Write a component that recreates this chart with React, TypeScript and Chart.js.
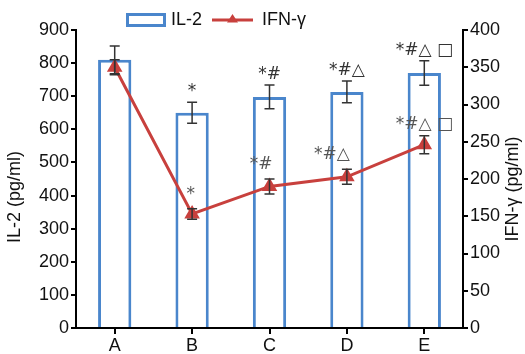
import React, { useEffect, useRef } from "react";
import { Chart, registerables } from "chart.js";

Chart.register(...registerables);

const categories = ["A", "B", "C", "D", "E"];
const il2Values = [810, 650, 698, 713, 770];
const il2Errors = [42, 32, 36, 33, 37];
const ifnValues = [350, 153, 190, 203, 246];
const ifnErrors = [10, 7, 10, 10, 12];
const il2Marks = ["", "*", "*#", "*#△", "*#△ □"];
const ifnMarks = ["", "*", "*#", "*#△", "*#△ □"];
const il2Ticks = [0, 100, 200, 300, 400, 500, 600, 700, 800, 900];
const ifnTicks = [0, 50, 100, 150, 200, 250, 300, 350, 400];

const BLUE = "#4a86cc";
const RED = "#c8403d";
const FONT = "'Liberation Sans', Arial, sans-serif";

const overlay = {
  id: "overlay",
  afterDatasetsDraw(chart: any) {
    const ctx = chart.ctx;
    const xs = chart.scales.x;
    const ys = chart.scales.y;
    const y1 = chart.scales.y1;
    ctx.save();
    ctx.strokeStyle = "#333";
    ctx.lineWidth = 1.5;
    const cap = 5;
    const drawErr = (vals: number[], errs: number[], scale: any) => {
      vals.forEach((v, i) => {
        const x = xs.getPixelForValue(i);
        const top = scale.getPixelForValue(v + errs[i]);
        const bot = scale.getPixelForValue(v - errs[i]);
        ctx.beginPath();
        ctx.moveTo(x, top);
        ctx.lineTo(x, bot);
        ctx.moveTo(x - cap, top);
        ctx.lineTo(x + cap, top);
        ctx.moveTo(x - cap, bot);
        ctx.lineTo(x + cap, bot);
        ctx.stroke();
      });
    };
    drawErr(il2Values, il2Errors, ys);
    drawErr(ifnValues, ifnErrors, y1);

    ctx.font = `17px 'DejaVu Sans', ${FONT}`;
    ctx.textBaseline = "alphabetic";
    ctx.fillStyle = "#333";
    il2Marks.forEach((m, i) => {
      if (!m) return;
      const x = xs.getPixelForValue(i);
      const top = ys.getPixelForValue(il2Values[i] + il2Errors[i]);
      ctx.textAlign = "center";
      ctx.fillText(m, x, top - 6);
    });
    ctx.fillStyle = "#555";
    ifnMarks.forEach((m, i) => {
      if (!m) return;
      const x = xs.getPixelForValue(i);
      const top = y1.getPixelForValue(ifnValues[i] + ifnErrors[i]);
      if (i === ifnMarks.length - 1) {
        ctx.textAlign = "center";
        ctx.fillText(m, x, top - 7);
      } else {
        ctx.textAlign = "right";
        ctx.fillText(m, x + 3, top - 10);
      }
    });
    ctx.restore();
  },
  afterDraw(chart: any) {
    const ctx = chart.ctx;
    ctx.save();
    // legend
    ctx.strokeStyle = BLUE;
    ctx.lineWidth = 3;
    ctx.strokeRect(127.5, 14.5, 37, 11);
    ctx.fillStyle = "#111";
    ctx.font = `18px ${FONT}`;
    ctx.textAlign = "left";
    ctx.textBaseline = "middle";
    ctx.fillText("IL-2", 171, 20.5);
    ctx.strokeStyle = RED;
    ctx.beginPath();
    ctx.moveTo(212, 20);
    ctx.lineTo(253, 20);
    ctx.stroke();
    ctx.fillStyle = RED;
    ctx.beginPath();
    ctx.moveTo(232.5, 14);
    ctx.lineTo(238, 22.5);
    ctx.lineTo(227, 22.5);
    ctx.closePath();
    ctx.fill();
    ctx.fillStyle = "#111";
    ctx.fillText("IFN-γ", 262, 20.5);
    // axis titles
    ctx.textAlign = "center";
    ctx.font = `18px ${FONT}`;
    ctx.save();
    ctx.translate(15, 197);
    ctx.rotate(-Math.PI / 2);
    ctx.fillText("IL-2 (pg/ml)", 0, 0);
    ctx.restore();
    ctx.save();
    ctx.translate(513, 189);
    ctx.rotate(-Math.PI / 2);
    ctx.fillText("IFN-γ (pg/ml)", 0, 0);
    ctx.restore();
    ctx.restore();
  },
};

export default function App() {
  const ref = useRef<HTMLCanvasElement | null>(null);
  useEffect(() => {
    if (!ref.current) return;
    const axisGrid = {
      display: true,
      drawOnChartArea: false,
      drawTicks: true,
      tickLength: 5,
      color: "#000",
      lineWidth: 2,
    };
    const chart = new Chart(ref.current, {
      type: "bar",
      data: {
        labels: categories,
        datasets: [
          {
            type: "line",
            label: "IFN-γ",
            data: ifnValues,
            yAxisID: "y1",
            borderColor: RED,
            backgroundColor: RED,
            borderWidth: 3,
            pointStyle: "triangle",
            pointRadius: 6,
            pointBackgroundColor: RED,
            pointBorderColor: RED,
            order: 0,
          } as any,
          {
            type: "bar",
            label: "IL-2",
            data: il2Values,
            yAxisID: "y",
            backgroundColor: "#fff",
            borderColor: BLUE,
            borderWidth: 3,
            borderSkipped: "bottom",
            barPercentage: 0.43,
            categoryPercentage: 1,
            order: 1,
          } as any,
        ],
      },
      options: {
        responsive: false,
        animation: false,
        layout: { padding: { top: 30, left: 0, right: 0, bottom: 0 } },
        plugins: { legend: { display: false }, tooltip: { enabled: false } },
        scales: {
          x: {
            offset: true,
            grid: { ...axisGrid, offset: false, tickLength: 6 },
            border: { display: true, color: "#000", width: 2 },
            ticks: { font: { size: 18, family: FONT }, color: "#111", padding: 1 },
            afterFit: (s: any) => {
              s.height = 26;
            },
          },
          y: {
            position: "left",
            min: 0,
            max: 900,
            afterBuildTicks: (s: any) => {
              s.ticks = il2Ticks.map((v) => ({ value: v }));
            },
            grid: axisGrid,
            border: { display: true, color: "#000", width: 2 },
            ticks: { font: { size: 18, family: FONT }, color: "#111", padding: 2 },
            afterFit: (s: any) => {
              s.width = 76;
            },
          },
          y1: {
            position: "right",
            min: 0,
            max: 400,
            afterBuildTicks: (s: any) => {
              s.ticks = ifnTicks.map((v) => ({ value: v }));
            },
            grid: axisGrid,
            border: { display: true, color: "#000", width: 2 },
            ticks: { font: { size: 18, family: FONT }, color: "#111", padding: 2 },
            afterFit: (s: any) => {
              s.width = 62;
            },
          },
        },
      } as any,
      plugins: [overlay],
    });
    return () => chart.destroy();
  }, []);
  return (
    <div style={{ position: "fixed", left: 0, top: 0, width: 525, height: 354, background: "#fff" }}>
      <canvas ref={ref} width={525} height={354} style={{ display: "block" }} />
    </div>
  );
}
